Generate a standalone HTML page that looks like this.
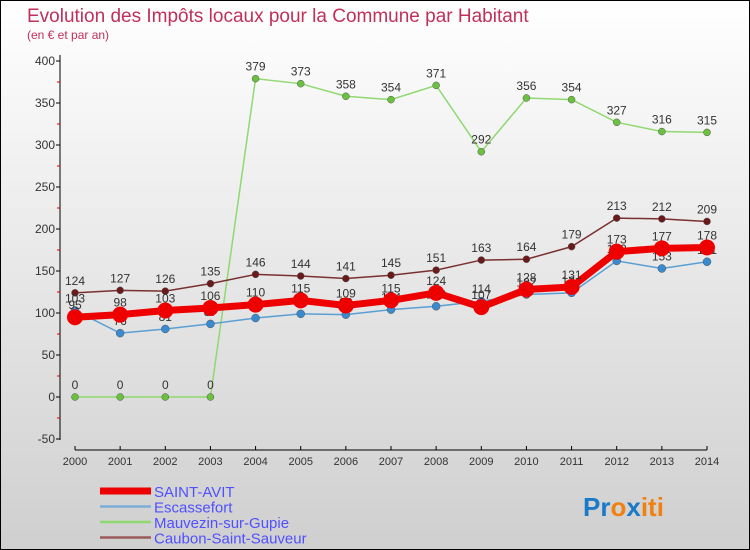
<!DOCTYPE html>
<html><head><meta charset="utf-8"><style>
body{margin:0}
svg{display:block;font-family:"Liberation Sans",sans-serif}
</style></head><body>
<svg id="c" width="750" height="550">
<defs><linearGradient id="bg" x1="0" y1="0" x2="0" y2="1"><stop offset="0" stop-color="#ffffff"/><stop offset="1" stop-color="#cfcfcf"/></linearGradient></defs>
<rect x="0.5" y="0.5" width="749" height="549" fill="url(#bg)" stroke="#000"/>
<text x="27" y="22" font-size="19" fill="#c0305a">Evolution des Impôts locaux pour la Commune par Habitant</text>
<text x="27" y="39" font-size="12" fill="#c0305a">(en € et par an)</text>
<g id="axes"></g><g id="series"></g><g id="legend"></g>
<text x="583" y="516" font-size="26" font-weight="bold"><tspan fill="#1a7ac8">Pr</tspan><tspan fill="#f08010">o</tspan><tspan fill="#1a7ac8">x</tspan><tspan fill="#f08010">iti</tspan></text>
</svg>
<script>
const years=["2000","2001","2002","2003","2004","2005","2006","2007","2008","2009","2010","2011","2012","2013","2014"];
const yTicks=[-50,0,50,100,150,200,250,300,350,400];
const saintAvit=[95,98,103,106,110,115,109,115,124,107,128,131,173,177,178];
const escassefort=[103,76,81,87,94,99,98,104,108,114,122,124,162,153,161];
const mauvezin=[0,0,0,0,379,373,358,354,371,292,356,354,327,316,315];
const caubon=[124,127,126,135,146,144,141,145,151,163,164,179,213,212,209];
const NS="http://www.w3.org/2000/svg";
const xs=i=>75+i*(632/14);
const ys=v=>397-v*0.84;
function mk(t,a,p){const e=document.createElementNS(NS,t);for(const k in a)e.setAttribute(k,a[k]);p.appendChild(e);return e;}
const ax=document.getElementById('axes');
let l=mk('line',{x1:60,y1:55,x2:60,y2:440,stroke:'#000'},ax);

l=mk('line',{x1:75,y1:450,x2:707,y2:450,stroke:'#000'},ax);

yTicks.forEach(v=>{const y=ys(v);
 mk('line',{x1:56,y1:y,x2:60,y2:y,stroke:'#000'},ax);
 if(v<400)mk('line',{x1:57,y1:ys(v+25),x2:60,y2:ys(v+25),stroke:'#d00'},ax);
 const t=mk('text',{x:55,y:y+4,'font-size':12,fill:'#333','text-anchor':'end'},ax);t.textContent=v;
 });
years.forEach((yr,i)=>{const x=xs(i);mk('line',{x1:x,y1:446,x2:x,y2:450,stroke:'#000'},ax);
 const t=mk('text',{x:x,y:465,'font-size':11,fill:'#333','text-anchor':'middle'},ax);t.textContent=yr;
 });
const sg=document.getElementById('series');
const defs=[[mauvezin,'#90d870','#6cc040',1.5,3.5,'mauvezin'],[caubon,'#7a3030','#6a1a1a',1.5,3.5,'caubon'],[escassefort,'#5a9fd4','#3a8ad0',1.5,4,'escassefort'],[saintAvit,'#ee0000','#ee0000',7,8,'saint-avit']];
defs.forEach(([d,lc,pc,w,r,n])=>{
 const g=mk('g',{},sg);
 const p=mk('polyline',{points:d.map((v,i)=>xs(i)+','+ys(v)).join(' '),fill:'none',stroke:lc,'stroke-width':w},g);
 
 d.forEach((v,i)=>{const c=mk('circle',{cx:xs(i),cy:ys(v),r:r,fill:pc,stroke:n=='saint-avit'?'none':'#555','stroke-width':0.5},g);
  
  const t=mk('text',{x:xs(i),y:ys(v)-8,'font-size':12,fill:'#333','text-anchor':'middle'},g);t.textContent=v;
  });
});
const lg=document.getElementById('legend');
[['SAINT-AVIT','#ee0000',7],['Escassefort','#7aaed8',2.5],['Mauvezin-sur-Gupie','#90d870',2.5],['Caubon-Saint-Sauveur','#9a5a5a',2.5]].forEach(([n,c,w],i)=>{
 const y=491+i*15.5;
 const g=mk('g',{},lg);
 mk('line',{x1:100,y1:y,x2:151,y2:y,stroke:c,'stroke-width':w},g);
 const t=mk('text',{x:154,y:y+6,'font-size':15,fill:'#5050ff'},g);t.textContent=n;});
</script>
</body></html>
